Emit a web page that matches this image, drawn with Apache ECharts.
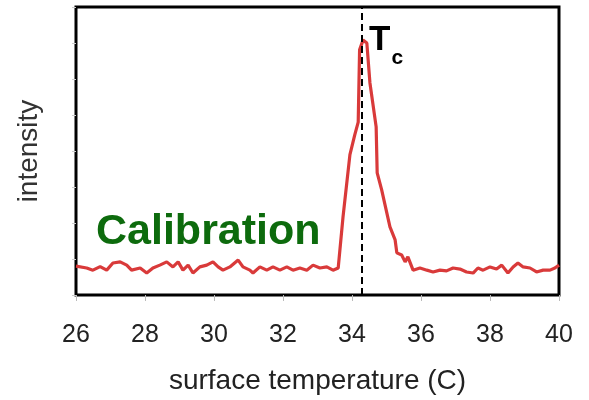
<!DOCTYPE html>
<html>
<head>
<meta charset="utf-8">
<script src="https://cdn.jsdelivr.net/npm/echarts@6/dist/echarts.min.js"></script>
<style>
html,body{margin:0;padding:0;background:#fff;}
#chart{width:589px;height:400px;}
</style>
</head>
<body>
<div id="chart"></div>
<script>
// surface temperature (C)
const temperature = [
  26.00, 26.02, 26.31, 26.49, 26.70, 26.89, 27.07, 27.28, 27.47, 27.61, 27.86,
  28.05, 28.23, 28.43, 28.63, 28.81, 28.96, 29.10, 29.25, 29.39, 29.59, 29.79,
  29.97, 30.12, 30.26, 30.46, 30.70, 30.84, 31.04, 31.13, 31.33, 31.53, 31.71,
  31.91, 32.11, 32.29, 32.49, 32.69, 32.87, 33.07, 33.27, 33.45, 33.60, 33.65,
  33.74, 33.94, 34.08, 34.18, 34.22, 34.32, 34.43, 34.52, 34.70, 34.73, 34.86,
  35.10, 35.25, 35.30, 35.44, 35.54, 35.62, 35.77, 35.97, 36.17, 36.35, 36.55,
  36.74, 36.93, 37.13, 37.32, 37.51, 37.65, 37.80, 38.00, 38.19, 38.34, 38.52,
  38.67, 38.81, 38.96, 39.16, 39.35, 39.54, 39.74, 39.88, 40.00
];
// intensity (arbitrary units)
const intensity = [
  0.80, 0.79, 0.75, 0.69, 0.79, 0.69, 0.89, 0.92, 0.83, 0.69, 0.75,
  0.61, 0.75, 0.83, 0.92, 0.78, 0.92, 0.69, 0.83, 0.61, 0.78, 0.83,
  0.92, 0.78, 0.69, 0.78, 0.97, 0.78, 0.69, 0.61, 0.78, 0.69, 0.78,
  0.69, 0.78, 0.69, 0.75, 0.69, 0.83, 0.75, 0.78, 0.69, 0.75, 0.78,
  2.17, 3.90, 4.45, 4.80, 6.81, 7.08, 7.00, 5.89, 4.67, 3.39, 2.92,
  1.89, 1.53, 1.17, 1.11, 0.92, 1.06, 0.69, 0.75, 0.69, 0.64, 0.69,
  0.67, 0.75, 0.72, 0.64, 0.61, 0.75, 0.69, 0.78, 0.72, 0.83, 0.61,
  0.78, 0.89, 0.78, 0.75, 0.64, 0.69, 0.69, 0.75, 0.83
];
const xTicks = [26, 28, 30, 32, 34, 36, 38, 40];
const tcValue = [34.29];
const labelText = ['Calibration'];

const chart = echarts.init(document.getElementById('chart'), null, {renderer: 'canvas'});
const data = temperature.map((t, i) => [t, intensity[i]]);

chart.setOption({
  animation: false,
  backgroundColor: '#ffffff',
  grid: {
    left: 76, right: 30, top: 7, bottom: 105,
    show: true, borderColor: '#000000', borderWidth: 3, backgroundColor: 'transparent'
  },
  xAxis: {
    type: 'value',
    min: xTicks[0], max: xTicks[xTicks.length - 1], interval: 2,
    name: 'surface temperature (C)',
    nameLocation: 'middle', nameGap: 72,
    nameTextStyle: {fontFamily: 'Liberation Sans', fontSize: 28, color: '#222'},
    axisLine: {show: false},
    axisTick: {show: true, length: 6, lineStyle: {color: '#bbbbbb', width: 1}},
    axisLabel: {fontFamily: 'Liberation Sans', fontSize: 25, color: '#222', margin: 28},
    splitLine: {show: false}
  },
  yAxis: {
    type: 'value', min: 0, max: 8, interval: 1,
    name: 'intensity', nameLocation: 'middle', nameGap: 33, nameRotate: 90,
    nameTextStyle: {fontFamily: 'Liberation Sans', fontSize: 28, color: '#333'},
    axisLine: {show: false},
    axisTick: {show: true, length: 4, lineStyle: {color: '#cccccc', width: 1}},
    axisLabel: {show: false},
    splitLine: {show: false}
  },
  series: [{
    type: 'line',
    data: data,
    showSymbol: false,
    symbol: 'none',
    lineStyle: {color: '#d93a3a', width: 3.2},
    z: 3,
    markLine: {
      silent: true,
      symbol: ['none', 'none'],
      label: {show: false},
      lineStyle: {color: '#000', type: [7, 4], width: 2},
      data: [{xAxis: tcValue[0]}],
      z: 4
    }
  }],
  graphic: [
    {
      type: 'text', left: 96, top: 211, z: 10,
      style: {text: labelText[0], font: 'bold 43px "Liberation Sans"', fill: '#0d6b0d'}
    },
    {
      type: 'text', left: 369, top: 23, z: 10,
      style: {
        text: '{t|T}{c|c}',
        rich: {
          t: {font: 'bold 35px "Liberation Sans"', fill: '#000', verticalAlign: 'bottom'},
          c: {font: 'bold 21px "Liberation Sans"', fill: '#000', verticalAlign: 'bottom', padding: [0, 0, -11, 1]}
        }
      }
    }
  ]
});
</script>
</body>
</html>
